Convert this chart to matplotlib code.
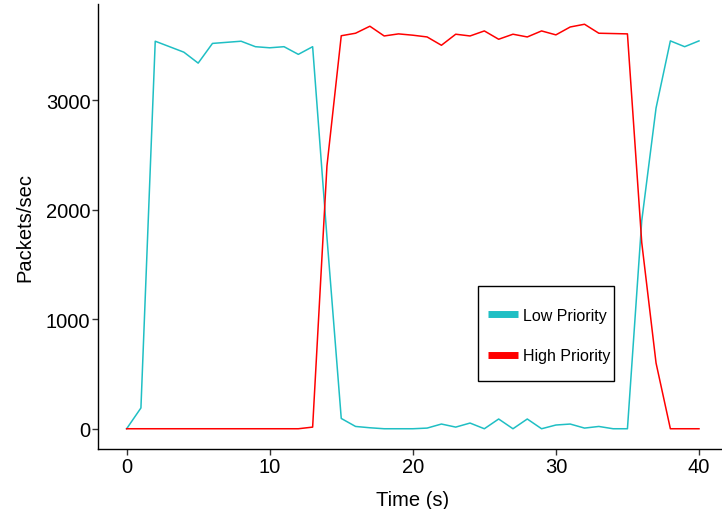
#!/usr/bin/env python3
# -*- coding: utf-8 -*-
# Packets/sec for low vs high priority traffic over time

import numpy as np
import matplotlib
matplotlib.use('Agg')
import matplotlib.pyplot as plt
from matplotlib.patches import Rectangle

plt.rcParams['font.family'] = ['Liberation Sans', 'DejaVu Sans']

# ---------- Data ----------
time_s = list(range(0, 41))

low_priority = [0, 190, 3540, 3490, 3440, 3340, 3520, 3530, 3540, 3490,
                3480, 3490, 3420, 3490, 1750, 94, 21, 9, 0, 0,
                0, 6, 43, 15, 52, 0, 89, 0, 89, 0,
                34, 43, 6, 21, 0, 0, 1900, 2930, 3543, 3490,
                3543]

high_priority = [0, 0, 0, 0, 0, 0, 0, 0, 0, 0,
                 0, 0, 0, 15, 2400, 3590, 3613, 3677, 3588, 3607,
                 3595, 3579, 3503, 3604, 3588, 3634, 3558, 3604, 3579, 3634,
                 3598, 3670, 3695, 3613, 3610, 3607, 1700, 600, 0, 0,
                 0]

series_labels = ["Low Priority", "High Priority"]
series_colors = ["#1FBFC4", "#FF0000"]

# ---------- Plot ----------
fig = plt.figure(figsize=(7.22, 5.10), dpi=100)
ax = fig.add_axes([98/722, 60/510, 629.6/722, 445/510])

ax.plot(time_s, low_priority, color=series_colors[0], lw=1.1, label=series_labels[0])
ax.plot(time_s, high_priority, color=series_colors[1], lw=1.1, label=series_labels[1])

ax.set_xlim(-2, 42)
ax.set_ylim(-185, 3880)
ax.set_xticks([0, 10, 20, 30, 40])
ax.set_yticks([0, 1000, 2000, 3000])

for s in ["top", "right"]:
    ax.spines[s].set_visible(False)
for s in ["left", "bottom"]:
    ax.spines[s].set_color("black")
    ax.spines[s].set_linewidth(1.0)

ax.tick_params(axis="both", direction="out", length=4, width=1,
               color="#333333", labelsize=14.5, labelcolor="black", pad=1.5)

ax.set_xlabel("Time (s)", fontsize=14.5, labelpad=10)
ax.set_ylabel("Packets/sec", fontsize=14.5, labelpad=8)

# legend: entries without frame + a box drawn around them
handles = [plt.Line2D([], [], color=c, lw=5, solid_capstyle="butt") for c in series_colors]
leg = ax.legend(handles, series_labels, loc="center left",
                bbox_to_anchor=(488/722, 173.5/510), bbox_transform=fig.transFigure,
                fontsize=11.5, frameon=False,
                handlelength=1.85, handletextpad=0.35, labelspacing=1.6,
                borderpad=0, borderaxespad=0)
fig.add_artist(Rectangle((478/722, (510-382)/510), 136/722, 95/510,
                         transform=fig.transFigure, fill=False,
                         edgecolor="black", lw=1.0))

fig.savefig("out.png", dpi=100)
